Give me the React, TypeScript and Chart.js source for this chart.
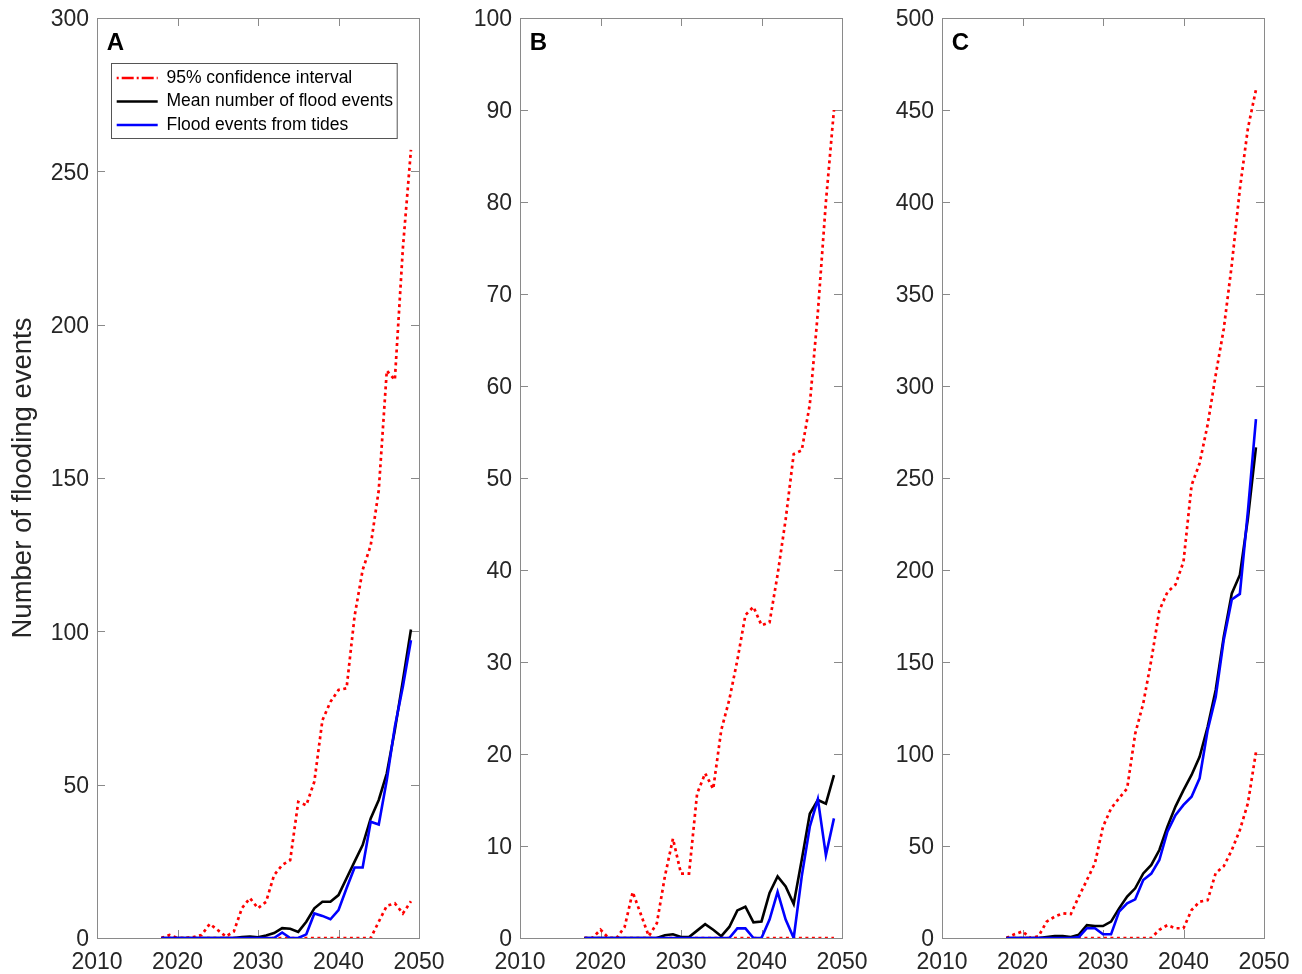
import React, { useEffect, useRef } from "react";
import { Chart, registerables } from "chart.js";

Chart.register(...registerables);

const FONT = "'Liberation Sans', Arial, Helvetica, sans-serif";

// ---------- data ----------
const years = [
  2018, 2019, 2020, 2021, 2022, 2023, 2024, 2025, 2026, 2027, 2028, 2029, 2030, 2031, 2032, 2033,
  2034, 2035, 2036, 2037, 2038, 2039, 2040, 2041, 2042, 2043, 2044, 2045, 2046, 2047, 2048, 2049,
];

// Panel A
const upperA = [0, 1, 0, 0, 0.3, 1, 4.6, 2.6, 0.5, 2.1, 9.7, 13, 9.7, 11.8, 20.5, 23.8, 25.4, 44.4, 43.3, 51, 71, 77, 80.9, 81.4, 105, 120, 128, 146, 185, 182, 225, 257];
const lowerA = [0, 0, 0, 0, 0, 0, 0, 0, 0, 0, 0, 0, 0, 0, 0, 0, 0, 0, 0, 0, 0, 0, 0, 0, 0, 0, 0, 5.3, 10.5, 11.3, 8, 12];
const meanA = [0, 0, 0, 0, 0, 0, 0, 0, 0, 0, 0.3, 0.5, 0.2, 0.8, 1.6, 3.2, 3, 2, 5.3, 9.7, 11.8, 11.8, 14, 19.5, 24.9, 30.3, 39, 45, 53.7, 67.8, 84, 100.6];
const tidesA = [0, 0, 0, 0, 0, 0, 0, 0, 0, 0, 0, 0, 0, 0, 0, 1.8, 0, 0, 1.2, 8, 7.2, 6.1, 9.1, 16.2, 23, 23, 37.9, 37, 51.5, 68.9, 82, 97.1];

// Panel B
const upperB = [0, 0, 0.9, 0, 0, 1.2, 5, 2.6, 0.2, 1.6, 6.7, 10.8, 7, 7, 15.7, 17.9, 16.2, 22.6, 25.9, 30.2, 35.1, 36, 34, 34.3, 39.5, 45.5, 52.6, 53, 58, 68, 80, 90];
const lowerB = [0, 0, 0, 0, 0, 0, 0, 0, 0, 0, 0, 0, 0, 0, 0, 0, 0, 0, 0, 0, 0, 0, 0, 0, 0, 0, 0, 0, 0, 0, 0, 0];
const meanB = [0, 0, 0, 0, 0, 0, 0, 0, 0, 0, 0.3, 0.4, 0.1, 0.1, 0.8, 1.5, 0.9, 0.2, 1.2, 3, 3.4, 1.7, 1.8, 4.9, 6.7, 5.6, 3.7, 8.5, 13.5, 15, 14.6, 17.7];
const tidesB = [0, 0, 0, 0, 0, 0, 0, 0, 0, 0, 0, 0, 0, 0, 0, 0, 0, 0, 0, 1.05, 1.05, 0, 0, 2, 5, 2, 0, 6.7, 12.1, 15.1, 9, 13];

// Panel C
const upperC = [0, 2, 3.6, 0, 1, 8.9, 11.6, 13.4, 13, 22.5, 31.5, 40.6, 60.5, 70.4, 76, 81.3, 111, 127.5, 151, 178, 188, 192, 204.5, 246, 258, 279, 306, 331, 366, 407, 440, 461];
const lowerC = [0, 0, 0, 0, 0, 0, 0, 0, 0, 0, 0, 0, 0, 0, 0, 0, 0, 0, 0, 4.5, 7, 5.3, 5.3, 15.2, 19.7, 20.6, 35.3, 39, 47.8, 58.7, 73.2, 101];
const meanC = [0, 0, 0, 0, 0, 0.5, 1, 1, 0.5, 1.8, 7, 6.5, 6.5, 8.9, 16.1, 22.5, 27, 35.1, 39.7, 47.8, 60.5, 71.4, 80.4, 88.6, 98.5, 114.8, 134.8, 163.8, 187.3, 197.3, 228, 266.7];
const tidesC = [0, 0, 0, 0, 0, 0, 0, 0, 0, 0.5, 5.3, 5.3, 2, 2, 14.3, 18.8, 21, 31.5, 35, 42.4, 57.8, 66.8, 72.3, 76.8, 86.8, 113, 131, 162, 184, 187, 232, 282];

const xMin = 2010;
const xMax = 2050;
const xStep = 10;
const panelLetters = ["A", "B", "C"];
const yMaxes = [300, 100, 500];
const ySteps = [50, 10, 50];
const legendLabels = ["95% confidence interval", "Mean number of flood events", "Flood events from tides"];
const yAxisTitle = "Number of flooding events";

const panelData = [
  { upper: upperA, lower: lowerA, mean: meanA, tides: tidesA },
  { upper: upperB, lower: lowerB, mean: meanB, tides: tidesB },
  { upper: upperC, lower: lowerC, mean: meanC, tides: tidesC },
];

// ---------- layout (pixels) ----------
const panelLayout = [
  { left: 0, width: 460, yAxisWidth: 97 },
  { left: 420, width: 462, yAxisWidth: 100 },
  { left: 842, width: 460, yAxisWidth: 100 },
];
const PLOT_W = 322;
const CANVAS_H = 974;

const toPts = (arr: number[]) => years.map((x, i) => ({ x, y: arr[i] }));

const matlabFrame = {
  id: "matlabFrame",
  afterLayout(chart: any, _args: any, opts: any) {
    if (!opts || !opts.legend) return;
    const lg = chart.legend;
    const ca = chart.chartArea;
    if (!lg) return;
    lg.left = ca.left + 13.7;
    lg.top = ca.top + 45.25;
    lg.right = ca.left + 310;
    lg.bottom = ca.bottom;
    lg.width = lg.right - lg.left;
    lg.height = lg.bottom - lg.top;
  },
  beforeDatasetsDraw(chart: any) {
    const { ctx, chartArea: ca, scales } = chart;
    const tl = 8;
    ctx.save();
    ctx.strokeStyle = "#8a8a8a";
    ctx.lineWidth = 1;
    ctx.beginPath();
    scales.y.ticks.forEach((t: any) => {
      const p = Math.round(scales.y.getPixelForValue(t.value)) + 0.5;
      ctx.moveTo(ca.left, p);
      ctx.lineTo(ca.left + tl, p);
      ctx.moveTo(ca.right, p);
      ctx.lineTo(ca.right - tl, p);
    });
    scales.x.ticks.forEach((t: any) => {
      const p = Math.round(scales.x.getPixelForValue(t.value)) + 0.5;
      ctx.moveTo(p, ca.bottom);
      ctx.lineTo(p, ca.bottom - tl);
      ctx.moveTo(p, ca.top);
      ctx.lineTo(p, ca.top + tl);
    });
    ctx.stroke();
    ctx.strokeRect(ca.left + 0.5, ca.top + 0.5, ca.right - ca.left, ca.bottom - ca.top);
    ctx.restore();
  },
  afterDraw(chart: any, _args: any, opts: any) {
    const { ctx, chartArea: ca } = chart;
    ctx.save();
    if (opts && opts.letter) {
      ctx.fillStyle = "#000";
      ctx.font = `bold 24px ${FONT}`;
      ctx.textBaseline = "alphabetic";
      ctx.textAlign = "left";
      ctx.fillText(opts.letter, ca.left + 9.7, ca.top + 32);
    }
    if (opts && opts.legend) {
      ctx.strokeStyle = "#555";
      ctx.lineWidth = 1;
      ctx.strokeRect(ca.left + 14.5, ca.top + 45.5, 285.7, 75);
    }
    ctx.restore();
  },
};

function Panel({ idx }: { idx: number }) {
  const ref = useRef<HTMLCanvasElement | null>(null);
  const lay = panelLayout[idx];
  useEffect(() => {
    if (!ref.current) return;
    const d = panelData[idx];
    const isA = idx === 0;
    const redStyle = {
      borderColor: "#ff0000",
      borderWidth: 2.7,
      borderDash: [3, 3.5],
      borderCapStyle: "butt" as const,
      pointRadius: 0,
      tension: 0,
      order: 3,
    };
    const chart = new Chart(ref.current, {
      type: "line",
      data: {
        datasets: [
          { label: legendLabels[0], data: toPts(d.upper), ...redStyle },
          { label: legendLabels[0] + " lower", data: toPts(d.lower), ...redStyle },
          { label: legendLabels[1], data: toPts(d.mean), borderColor: "#000000", borderWidth: 2.6, pointRadius: 0, tension: 0, order: 2 },
          { label: legendLabels[2], data: toPts(d.tides), borderColor: "#0000ff", borderWidth: 2.6, pointRadius: 0, tension: 0, order: 1 },
        ],
      },
      options: {
        animation: false,
        responsive: false,
        events: [],
        layout: { padding: { left: 0, top: 18, right: lay.width - lay.yAxisWidth - PLOT_W, bottom: 0 } },
        scales: {
          x: {
            type: "linear",
            min: xMin,
            max: xMax,
            ticks: {
              stepSize: xStep,
              callback: (v: any) => String(v),
              font: { family: FONT, size: 23 },
              color: "#262626",
              padding: 11,
              maxRotation: 0,
              autoSkip: false,
            },
            grid: { display: false, drawTicks: false },
            border: { display: false },
            afterFit: (s: any) => {
              s.height = 36;
            },
          },
          y: {
            type: "linear",
            min: 0,
            max: yMaxes[idx],
            ticks: {
              stepSize: ySteps[idx],
              font: { family: FONT, size: 23 },
              color: "#262626",
              padding: 8,
              labelOffset: 2,
            },
            grid: { display: false, drawTicks: false },
            border: { display: false },
            title: isA
              ? {
                  display: true,
                  text: yAxisTitle,
                  font: { family: FONT, size: 27.5, lineHeight: 1 },
                  color: "#262626",
                  padding: { top: 9.5, bottom: 0 },
                }
              : { display: false },
            afterFit: (s: any) => {
              s.width = lay.yAxisWidth;
              s.paddingTop = 0;
              s.paddingBottom = 0;
            },
          },
        },
        plugins: {
          legend: isA
            ? {
                display: true,
                position: "chartArea",
                align: "start",
                labels: {
                  usePointStyle: true,
                  pointStyleWidth: 41,
                  boxWidth: 41,
                  padding: 6,
                  font: { family: FONT, size: 17.5 },
                  color: "#000",
                  generateLabels: () => [
                    { text: legendLabels[0], strokeStyle: "#ff0000", fillStyle: "#ff0000", lineWidth: 2.7, lineDash: [2, 3, 12, 3], pointStyle: "line", fontColor: "#000", hidden: false, datasetIndex: 0 },
                    { text: legendLabels[1], strokeStyle: "#000000", fillStyle: "#000000", lineWidth: 2.7, lineDash: [], pointStyle: "line", fontColor: "#000", hidden: false, datasetIndex: 2 },
                    { text: legendLabels[2], strokeStyle: "#0000ff", fillStyle: "#0000ff", lineWidth: 2.7, lineDash: [], pointStyle: "line", fontColor: "#000", hidden: false, datasetIndex: 3 },
                  ],
                },
              }
            : { display: false },
          tooltip: { enabled: false },
          matlabFrame: { letter: panelLetters[idx], legend: isA },
        } as any,
      },
      plugins: [matlabFrame as any],
    } as any);
    return () => chart.destroy();
  }, [idx]);
  return (
    <canvas
      ref={ref}
      width={lay.width}
      height={CANVAS_H}
      style={{ position: "absolute", left: lay.left, top: 0, width: lay.width, height: CANVAS_H }}
    />
  );
}

export default function App() {
  return (
    <div style={{ position: "absolute", left: 0, top: 0, width: 1302, height: 974, background: "#ffffff", overflow: "hidden" }}>
      <Panel idx={0} />
      <Panel idx={1} />
      <Panel idx={2} />
    </div>
  );
}
